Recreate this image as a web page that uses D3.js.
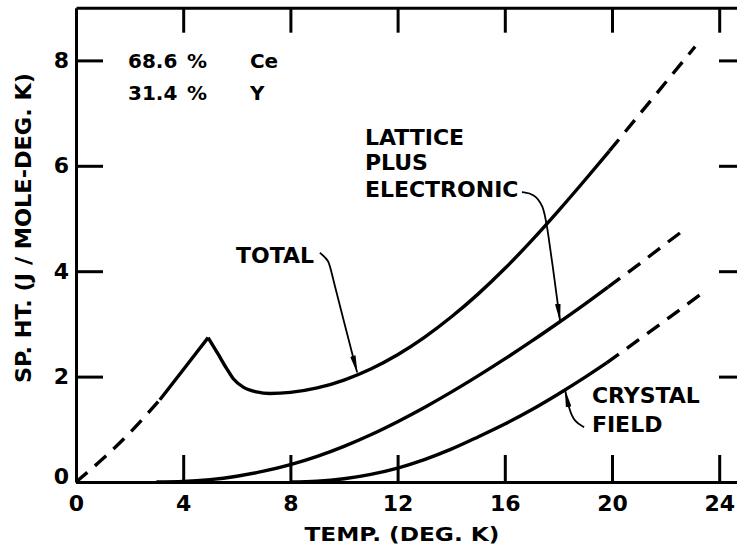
<!DOCTYPE html>
<html>
<head>
<meta charset="utf-8">
<script src="https://cdn.jsdelivr.net/npm/d3@7/dist/d3.min.js"></script>
<style>
  html, body { margin: 0; padding: 0; background: #fff; }
  svg { display: block; }
  text { font-family: "DejaVu Sans", sans-serif; font-weight: bold; fill: #000; }
</style>
</head>
<body>
<svg id="chart" width="737" height="550"></svg>
<script>
// ---- data (temperature in K, specific heat in J/mole-deg K) ----
const xTicks = [0, 4, 8, 12, 16, 20, 24];
const yTicks = [0, 2, 4, 6, 8];

const totalDashedLow = [[0,0],[1,0.44],[2,0.93],[3.13,1.56]];
const totalRise      = [[3.13,1.56],[4.03,2.15],[4.93,2.74]];
const totalFall      = [[4.93,2.74],[5.3,2.43],[5.6,2.17],[5.87,1.96],[6.24,1.80],[6.74,1.71],[7.24,1.68],[8,1.70],[9,1.785],[10,1.935],[11,2.145],[12,2.415],[13,2.745],[14,3.13],[15,3.565],[16,4.05],[17,4.58],[18,5.145],[19,5.735],[19.9,6.28]];
const totalDashedHigh= [[19.9,6.28],[21,6.96],[22,7.58],[23.1,8.26]];

const latticeSolid   = [[3,0],[4,0.01],[5,0.045],[6,0.11],[7,0.205],[8,0.33],[9,0.487],[10,0.677],[11,0.897],[12,1.145],[13,1.415],[14,1.705],[15,2.013],[16,2.335],[17,2.672],[18,3.022],[19,3.382],[19.85,3.70]];
const latticeDashed  = [[19.85,3.70],[21,4.13],[22,4.52],[22.55,4.73]];

const crystalSolid   = [[8,0],[9,0.015],[10,0.062],[11,0.145],[12,0.265],[13,0.425],[14,0.623],[15,0.855],[16,1.10],[17,1.37],[18,1.67],[19,1.99],[19.8,2.26]];
const crystalDashed  = [[19.8,2.26],[21,2.70],[22,3.07],[23.3,3.56]];

// annotation leaders, in data units
const totalLeader    = [[9.10,4.35],[9.45,4.20],[9.52,3.98],[10.49,2.08]];
const latticeLeader  = [[16.64,5.50],[17.10,5.47],[17.42,5.25],[17.57,4.93],[18.06,3.06]];
const crystalLeader  = [[18.96,1.04],[18.60,1.14],[18.40,1.38],[18.25,1.74]];

const compLines = [["68.6","%","Ce"],["31.4","%","Y"]];
const labelLattice = ["LATTICE","PLUS","ELECTRONIC"];
const labelCrystal = ["CRYSTAL","FIELD"];

// ---- layout ----
const svg = d3.select("#chart");
const x = d3.scaleLinear().domain([0, 25]).range([76, 746]);
const y = d3.scaleLinear().domain([0, 9]).range([482, 7.7]);

const line = d3.line().x(d => x(d[0])).y(d => y(d[1])).curve(d3.curveMonotoneX);
const leader = d3.line().x(d => x(d[0])).y(d => y(d[1])).curve(d3.curveBasis);

// arrow marker
svg.append("defs").append("marker")
  .attr("id","arrow").attr("viewBox","0 0 18 8").attr("refX",17).attr("refY",4)
  .attr("markerWidth",18).attr("markerHeight",8).attr("markerUnits","userSpaceOnUse")
  .attr("orient","auto")
  .append("path").attr("d","M0,1.2 L18,4 L0,6.8 Z").attr("fill","#000");

// axes
function styleAxis(g){
  g.selectAll(".tick line").attr("stroke","#000").attr("stroke-width",3);
  g.select(".domain").attr("stroke","#000").attr("stroke-width",3);
}
svg.append("g").attr("transform",`translate(0,${y(0)})`)
  .call(d3.axisBottom(x).tickValues(xTicks).tickSizeInner(-27).tickSizeOuter(0).tickPadding(13))
  .call(styleAxis)
  .call(g => g.selectAll(".tick text").attr("font-size",22).attr("font-family","DejaVu Sans").attr("font-weight","bold"));
svg.append("g").attr("transform",`translate(0,${y(9)})`)
  .call(d3.axisTop(x).tickValues(xTicks.slice(1)).tickSizeInner(-25).tickSizeOuter(0).tickFormat(""))
  .call(styleAxis);
svg.append("g").attr("transform",`translate(${x(0)},0)`)
  .call(d3.axisLeft(y).tickValues(yTicks).tickSizeInner(-27).tickSizeOuter(0).tickPadding(7))
  .call(styleAxis)
  .call(g => g.selectAll(".tick text").attr("font-size",22).attr("font-family","DejaVu Sans").attr("font-weight","bold"))
  .call(g => g.selectAll(".tick").filter(d => d === 0).select("text").attr("dy","0.05em"));
svg.append("g").attr("transform",`translate(${x(25)},0)`)
  .call(d3.axisRight(y).tickValues(yTicks.slice(1)).tickSizeInner(-27).tickSizeOuter(0).tickFormat(""))
  .call(styleAxis);

// curves
const curves = [
  [totalDashedLow, true],[totalRise,false],[totalFall,false],[totalDashedHigh,true],
  [latticeSolid,false],[latticeDashed,true],
  [crystalSolid,false],[crystalDashed,true]
];
svg.append("g").selectAll("path").data(curves).join("path")
  .attr("d", d => line(d[0]))
  .attr("fill","none").attr("stroke","#000").attr("stroke-width",3.4)
  .attr("stroke-linejoin","round")
  .attr("stroke-dasharray", d => d[1] ? "15,10" : null);

// leaders
[totalLeader, latticeLeader, crystalLeader].forEach(pts => {
  svg.append("path").attr("d", leader(pts))
    .attr("fill","none").attr("stroke","#000").attr("stroke-width",1.8)
    .attr("marker-end","url(#arrow)");
});

// labels
svg.append("text").attr("x",x(5.97)).attr("y",y(4.155)).attr("font-size",22).text("TOTAL");
svg.append("g").selectAll("text").data(labelLattice).join("text")
  .attr("x",x(10.78)).attr("y",(d,i)=>y([6.395,5.92,5.41][i])).attr("font-size",22).text(d=>d);
svg.append("g").selectAll("text").data(labelCrystal).join("text")
  .attr("x",x(19.25)).attr("y",(d,i)=>y([1.5,0.95][i])).attr("font-size",22).text(d=>d);

const comp = svg.append("g");
compLines.forEach((row,i) => {
  const yy = y([7.86,7.25][i]);
  comp.append("text").attr("x",x(1.94)).attr("y",yy).attr("font-size",20).text(row[0]);
  comp.append("text").attr("x",x(4.14)).attr("y",yy).attr("font-size",20).text(row[1]);
  comp.append("text").attr("x",x(6.49)).attr("y",yy).attr("font-size",20).text(row[2]);
});

// axis titles
svg.append("text").attr("x",402).attr("y",541).attr("text-anchor","middle")
  .attr("font-size",20).attr("textLength",195).attr("lengthAdjust","spacingAndGlyphs")
  .text("TEMP. (DEG. K)");
svg.append("text").attr("transform","translate(31,228) rotate(-90)").attr("text-anchor","middle")
  .attr("font-size",21).attr("textLength",310).attr("lengthAdjust","spacingAndGlyphs")
  .text("SP. HT. (J / MOLE-DEG. K)");
</script>
</body>
</html>
